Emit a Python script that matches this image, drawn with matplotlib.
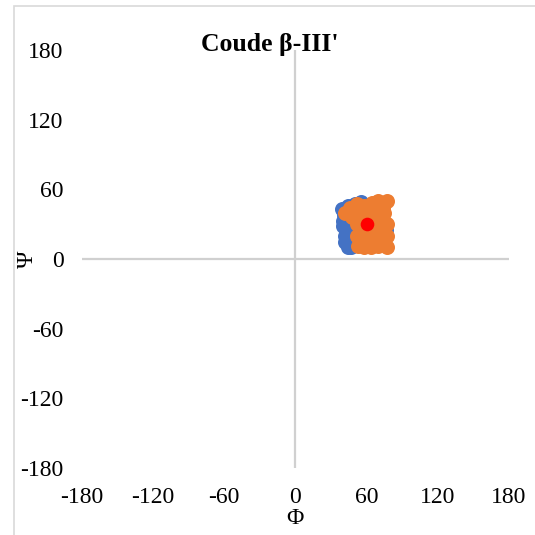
import matplotlib
matplotlib.use("Agg")
import matplotlib.pyplot as plt
from matplotlib.patches import Rectangle

plt.rcParams['font.family'] = ['Liberation Serif', 'DejaVu Serif']

title = "Coude β-III'"
x_label = "Φ"
y_label = "Ψ"
ticks = [-180, -120, -60, 0, 60, 120, 180]

blue_phi = [39, 41, 44, 40, 42, 45, 47, 50, 55, 60, 65, 70, 76, 72, 58, 48, 43, 62, 68, 53, 44,
            40, 42, 46, 50, 44, 48, 75]
blue_psi = [43, 38, 46, 28, 20, 12, 10, 15, 49, 40, 35, 20, 25, 30, 18, 33, 25, 12, 45, 38, 10,
            33, 15, 40, 47, 30, 22, 30]

orange_phi = [42, 46, 52, 58, 65, 70, 77, 52, 52, 53, 58, 64, 70, 77, 77, 77, 70, 63, 58, 66, 72, 48, 60, 74, 56,
              58, 65, 70, 60, 72, 65, 56, 48, 55, 68, 75, 75, 62, 50, 57, 68, 74, 62, 54]
orange_psi = [40, 44, 47, 46, 48, 50, 50, 30, 20, 11, 10, 10, 11, 10, 20, 30, 40, 38, 25, 20, 28, 36, 15, 44, 38,
              30, 30, 20, 40, 35, 15, 20, 42, 42, 45, 40, 15, 45, 38, 12, 28, 22, 20, 35]

center_phi = [60]
center_psi = [30]

W = 535
fig = plt.figure(figsize=(5.35, 5.35), dpi=100)
ax = fig.add_axes([81.5 / W, 67 / W, 427.5 / W, 418 / W])

ax.set_xlim(-180, 180)
ax.set_ylim(-180, 180)
for s in ax.spines.values():
    s.set_visible(False)
ax.axhline(0, color='#D0D0D0', lw=1.6, zorder=1)
ax.axvline(0, color='#D0D0D0', lw=1.6, zorder=1)

ax.plot(blue_phi, blue_psi, 'o', color='#4472C4', ms=10.8, mew=0, zorder=2)
ax.plot(orange_phi, orange_psi, 'o', color='#ED7D31', ms=10.8, mew=0, zorder=3)
ax.plot(center_phi, center_psi, 'o', color='#FF0000', ms=9.8, mew=0, zorder=4)

ax.set_xticks(ticks)
ax.set_yticks(ticks)
ax.set_xticklabels([str(t) for t in ticks])
ax.set_yticklabels([str(t) for t in ticks])
ax.tick_params(axis='both', length=0, labelsize=17, colors='black')
ax.tick_params(axis='x', pad=14)
ax.tick_params(axis='y', pad=13)

fig.text(295 / W, 1 - 518 / W, x_label, ha='center', va='center', fontsize=17)
fig.text(27 / W, 1 - 259 / W, y_label, ha='center', va='center', fontsize=17, rotation=90)
fig.text(270 / W, 1 - 45 / W, title, ha='center', va='center', fontsize=18.5, fontweight='bold')

fig.patches.append(Rectangle((13.5 / W, -0.1), 1.2, 1.1 - 6.5 / W + 0.0,
                             transform=fig.transFigure, fill=False,
                             edgecolor='#D9D9D9', lw=1.2))

fig.savefig('out.png', dpi=100)
